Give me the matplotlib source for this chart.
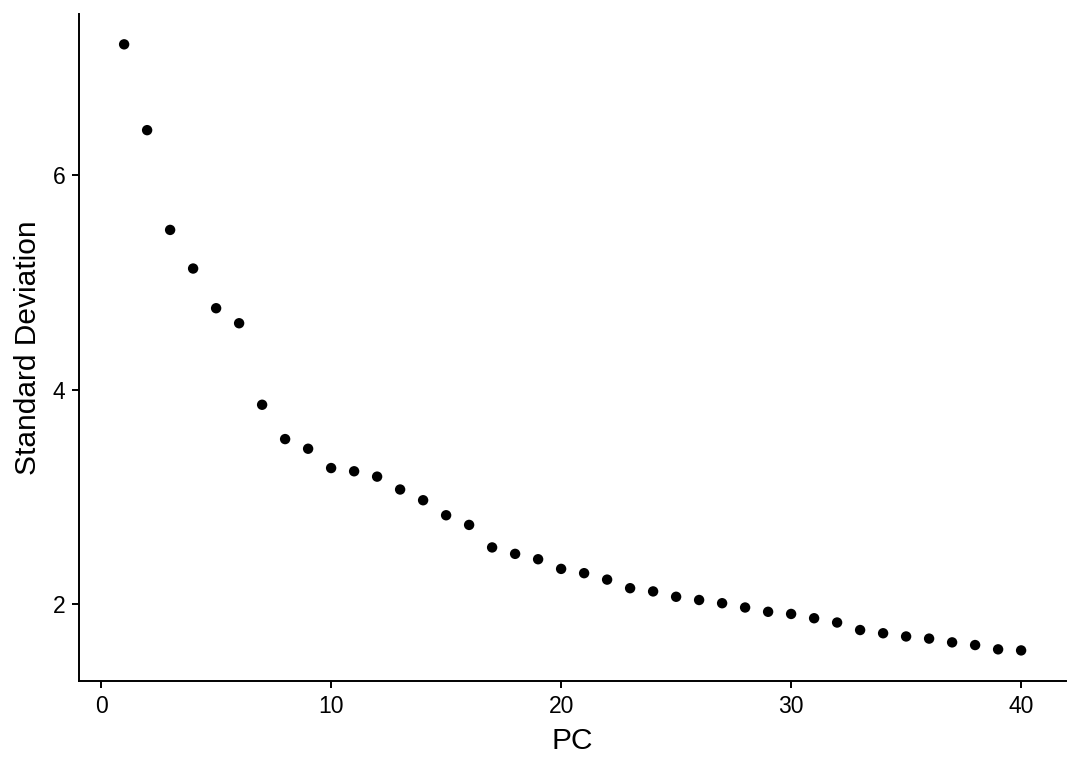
import matplotlib
matplotlib.use("Agg")
import matplotlib.pyplot as plt

pcs = list(range(1, 41))
stdev = [7.22, 6.42, 5.49, 5.13, 4.76, 4.62, 3.86, 3.54, 3.45, 3.27,
         3.24, 3.19, 3.07, 2.97, 2.83, 2.74, 2.53, 2.47, 2.42, 2.33,
         2.29, 2.23, 2.15, 2.12, 2.07, 2.04, 2.01, 1.97, 1.93, 1.91,
         1.87, 1.83, 1.76, 1.73, 1.70, 1.68, 1.645, 1.62, 1.58, 1.57]
x_ticks = [0, 10, 20, 30, 40]
y_ticks = [2, 4, 6]

plt.rcParams['font.family'] = ['Liberation Sans', 'DejaVu Sans']

fig = plt.figure(figsize=(10.8, 7.71), dpi=100)
ax = fig.add_axes([0.0734, 0.1171, 0.987 - 0.0734, 0.9818 - 0.1171])
ax.scatter(pcs, stdev, s=56, color='black', edgecolors='none', zorder=3)

rng = max(stdev) - min(stdev)
ax.set_xlim(1 - 0.05 * 39, 40 + 0.05 * 39)
ax.set_ylim(min(stdev) - 0.05 * rng, max(stdev) + 0.05 * rng)
ax.set_xticks(x_ticks)
ax.set_yticks(y_ticks)

for s in ['top', 'right']:
    ax.spines[s].set_visible(False)
for s in ['left', 'bottom']:
    ax.spines[s].set_linewidth(1.4)
    ax.spines[s].set_color('black')
ax.tick_params(axis='both', length=5, width=1.4, color='black',
               labelsize=16.5, labelcolor='black', pad=5)
ax.set_xlabel('PC', fontsize=21.5, labelpad=7)
ax.set_ylabel('Standard Deviation', fontsize=21.5, labelpad=8)

fig.savefig('out.png', dpi=100)
